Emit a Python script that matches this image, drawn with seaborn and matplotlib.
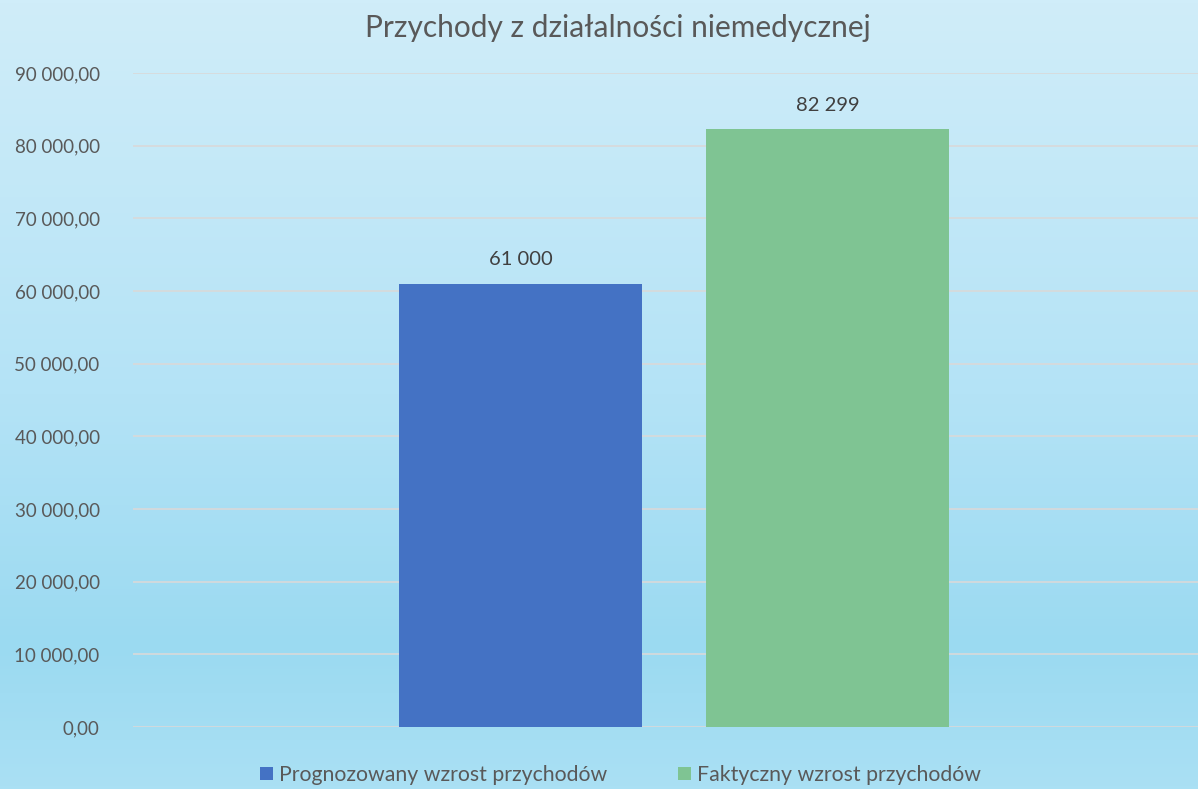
import numpy as np
import pandas as pd
import matplotlib
matplotlib.use("Agg")
import matplotlib.pyplot as plt
import seaborn as sns
from matplotlib.colors import LinearSegmentedColormap

title = "Przychody z działalności niemedycznej"
series = ["Prognozowany wzrost przychodów", "Faktyczny wzrost przychodów"]
values = [61000, 82299]
value_labels = ["61 000", "82 299"]
colors = ["#4472C4", "#7FC493"]
yticks = [0, 10000, 20000, 30000, 40000, 50000, 60000, 70000, 80000, 90000]

sns.set_theme(style="white")
plt.rcParams["font.family"] = ["Lato", "DejaVu Sans"]

df = pd.DataFrame({"cat": [""] * len(series), "series": series, "value": values})

fig = plt.figure(figsize=(11.98, 7.89), dpi=100)

# gradient background
bg = fig.add_axes([0, 0, 1, 1], zorder=0)
cmap = LinearSegmentedColormap.from_list(
    "bg", [(0.0, (208/255, 237/255, 249/255)),
           (0.5, (180/255, 227/255, 246/255)),
           (0.82, (155/255, 218/255, 241/255)),
           (1.0, (170/255, 224/255, 244/255))])
grad = np.linspace(0, 1, 256).reshape(-1, 1)
bg.imshow(grad, aspect="auto", cmap=cmap, extent=[0, 1, 0, 1], origin="upper")
bg.set_axis_off()

ax = fig.add_axes([133/1198, 62/789, (1198-133)/1198, 654/789], zorder=1)
ax.patch.set_alpha(0)

sns.barplot(data=df, x="cat", y="value", hue="series", palette=colors,
            width=0.8, gap=0.21, ax=ax, legend=True, saturation=1,
            edgecolor="none", linewidth=0)

ax.set_ylim(0, 90000)
ax.set_xlim(-0.705, 0.683)
ax.set_yticks(yticks)
ax.set_yticklabels([f"{v:,.2f}".replace(",", " ").replace(".", ",") for v in yticks],
                   color="#595959", fontsize=13.5)
ax.tick_params(axis="y", length=0, pad=24)
ax.set_xticks([])
ax.set_xlabel("")
ax.set_ylabel("")
ax.yaxis.grid(True, color="#D9D9D9", linewidth=1.2)
ax.set_axisbelow(True)
for s in ax.spines.values():
    s.set_visible(False)

for cont, lab in zip(ax.containers, value_labels):
    ax.bar_label(cont, labels=[lab], padding=11, color="#404040", fontsize=14.5)

fig.text(0.516, 0.965, title, ha="center", va="center", fontsize=21.5, color="#595959")

handles, labels = ax.get_legend_handles_labels()
ax.legend_.remove()
fig.legend(handles, labels, loc="center", bbox_to_anchor=(0.518, 0.018), ncol=2,
           frameon=False, fontsize=15.3, labelcolor="#595959", handlelength=0.6,
           handleheight=0.6, handletextpad=0.3, columnspacing=3.3)

fig.savefig("out.png", dpi=100)
